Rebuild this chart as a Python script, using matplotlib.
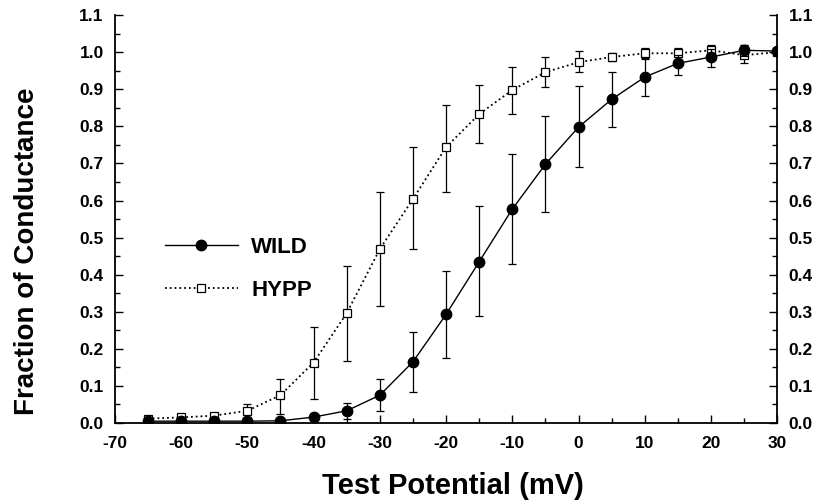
import numpy as np
import matplotlib
matplotlib.use('Agg')
from matplotlib import pyplot as plt
from matplotlib.ticker import MultipleLocator

plt.rcParams['font.family'] = ['Liberation Sans', 'DejaVu Sans']
plt.rcParams['axes.unicode_minus'] = False

# Test potential (mV)
potential = [-65, -60, -55, -50, -45, -40, -35, -30, -25, -20, -15, -10, -5, 0, 5, 10, 15, 20, 25, 30]

# WILD: mean, upper and lower error limits
wild = [0.005, 0.005, 0.005, 0.005, 0.006, 0.016, 0.033, 0.075, 0.165, 0.293, 0.435, 0.577,
        0.698, 0.798, 0.873, 0.933, 0.970, 0.987, 1.005, 1.003]
wild_hi = [0.010, 0.010, 0.010, 0.010, 0.012, 0.025, 0.054, 0.120, 0.245, 0.410, 0.585, 0.725,
           0.828, 0.908, 0.946, 0.985, 0.992, 1.008, 1.020, 1.010]
wild_lo = [0.000, 0.000, 0.000, 0.000, 0.000, 0.007, 0.010, 0.033, 0.085, 0.176, 0.289, 0.429,
           0.569, 0.690, 0.798, 0.881, 0.938, 0.960, 0.990, 0.996]

# HYPP: mean, upper and lower error limits
hypp = [0.012, 0.015, 0.020, 0.033, 0.075, 0.163, 0.296, 0.469, 0.604, 0.744, 0.833, 0.898,
        0.946, 0.973, 0.987, 0.997, 0.997, 1.005, 0.992, 1.000]
hypp_hi = [0.018, 0.022, 0.028, 0.050, 0.120, 0.258, 0.424, 0.623, 0.743, 0.857, 0.911, 0.960,
           0.987, 1.003, 0.997, 1.012, 1.010, 1.020, 1.020, 1.008]
hypp_lo = [0.006, 0.008, 0.012, 0.015, 0.025, 0.066, 0.166, 0.315, 0.469, 0.623, 0.755, 0.833,
           0.906, 0.946, 0.977, 0.982, 0.970, 0.985, 0.970, 0.992]

x = np.array(potential)
w, h = np.array(wild), np.array(hypp)
w_err = [w - np.array(wild_lo), np.array(wild_hi) - w]
h_err = [h - np.array(hypp_lo), np.array(hypp_hi) - h]

fig = plt.figure(figsize=(8.2, 5.03), dpi=100)
ax = fig.add_axes([0.140, 0.159, 0.808, 0.811])

ax.errorbar(x, h, yerr=h_err, fmt='s', color='black', mfc='white', ms=6, mew=0.9,
            ecolor='black', elinewidth=0.9, capsize=3, capthick=0.9, zorder=3)
ax.plot(x, h, ':', color='black', lw=1.3, zorder=2)
ax.errorbar(x, w, yerr=w_err, fmt='o', color='black', ms=7.5, ecolor='black',
            elinewidth=0.9, capsize=3, capthick=0.9, zorder=4)
ax.plot(x, w, '-', color='black', lw=1.0, zorder=2)

# legend handles
ax.plot([], [], '-o', color='black', ms=7.5, lw=1.0, label='WILD')
ax.plot([], [], ':s', color='black', mfc='white', ms=6, mew=0.9, lw=1.3, label='HYPP')
handles, labels = ax.get_legend_handles_labels()
leg = ax.legend(handles[-2:], labels[-2:], loc='upper left', bbox_to_anchor=(0.045, 0.505),
                frameon=False, handlelength=3.3, handletextpad=0.6, labelspacing=1.0,
                prop={'size': 16, 'weight': 'bold'})

ax.set_xlim(-70, 30)
ax.set_ylim(0, 1.1)
ax.xaxis.set_major_locator(MultipleLocator(10))
ax.xaxis.set_minor_locator(MultipleLocator(5))
ax.yaxis.set_major_locator(MultipleLocator(0.1))
ax.yaxis.set_minor_locator(MultipleLocator(0.05))
ax.yaxis.set_major_formatter(plt.FormatStrFormatter('%.1f'))
ax.tick_params(which='both', direction='in', right=True, labelright=True, width=1)
ax.tick_params(which='major', length=6, labelsize=12.5)
ax.tick_params(which='minor', length=3.5)
ax.tick_params(axis='x', which='major', pad=9)
ax.tick_params(axis='y', which='major', pad=8)
for lbl in ax.get_xticklabels() + ax.get_yticklabels():
    lbl.set_fontweight('bold')
ax.spines['top'].set_visible(False)
for s in ['left', 'right', 'bottom']:
    ax.spines[s].set_linewidth(1.3)

ax.set_xlabel('Test Potential (mV)', fontsize=21, fontweight='bold')
ax.xaxis.set_label_coords(0.51, -0.12)
ax.set_ylabel('Fraction of Conductance', fontsize=20, fontweight='bold')
ax.yaxis.set_label_coords(-0.113, 0.42)

fig.savefig('out.png', dpi=100)
